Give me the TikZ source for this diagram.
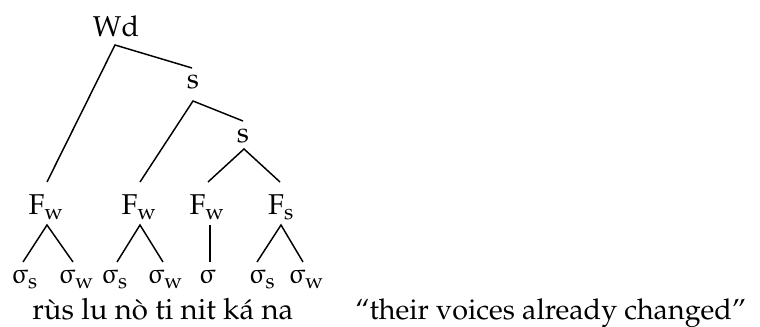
\documentclass[tikz,border=0pt]{standalone}
\usepackage[T1]{fontenc}
\usepackage{mathpazo}
\usepackage{upgreek}
\usetikzlibrary{calc}
\tikzset{
  lbl/.style={anchor=base,inner sep=0pt,font=\fontsize{21.5}{24}\selectfont},
  leaf/.style={anchor=base,inner sep=0pt,font=\fontsize{21}{24}\selectfont},
  txt/.style={anchor=base west,inner sep=0pt,font=\fontsize{22}{24}\selectfont},
  br/.style={line width=1.1pt,line join=miter}
}
\newcommand{\sig}[1]{$\upsigma_{\mathrm{#1}}$}
\begin{document}
\begin{tikzpicture}[x=0.75pt,y=-0.75pt]
\useasboundingbox (0,0) rectangle (760,327);
\node[lbl] (wd) at (116,37) {Wd};
\node[lbl] (s1) at (193,89) {s};
\node[lbl] (s2) at (243,143) {s};
\node[lbl] (f1) at (46,215) {F$_{\mathrm{w}}$};
\node[lbl] (f2) at (139,215) {F$_{\mathrm{w}}$};
\node[lbl] (f3) at (207,215) {F$_{\mathrm{w}}$};
\node[lbl] (f4) at (281,215) {F$_{\mathrm{s}}$};
\node[leaf] (l1) at (24.5,284) {\sig{s}};
\node[leaf] (l2) at (76,284) {\sig{w}};
\node[leaf] (l3) at (114.5,284) {\sig{s}};
\node[leaf] (l4) at (165,284) {\sig{w}};
\node[leaf] (l5) at (207,284) {$\upsigma$};
\node[leaf] (l6) at (262,284) {\sig{s}};
\node[leaf] (l7) at (306,284) {\sig{w}};
\node[txt] (words) at (32,320) {r\`us lu n\`o ti nit k\'a na};
\node[txt,font=\fontsize{21.5}{24}\selectfont] (gloss) at (355,320) {``their voices already changed''};
% Wd
\draw[br] ($(f1.base)+(1,-33)$) -- ($(wd.base)+(-1,8)$) -- ($(s1.base)+(-1,-21)$);
% s1
\draw[br] ($(f2.base)+(1,-33)$) -- ($(s1.base)+(0,12)$) -- ($(s2.base)+(0,-22)$);
% s2
\draw[br] ($(f3.base)+(1,-33)$) -- ($(s2.base)+(1,6)$) -- ($(f4.base)+(-1,-33)$);
% feet
\draw[br] ($(l1.base)+(-1.5,-22)$) -- ($(f1.base)+(1,10)$) -- ($(l2.base)+(-3,-22)$);
\draw[br] ($(l3.base)+(2.5,-22)$) -- ($(f2.base)+(1,10)$) -- ($(l4.base)+(-2,-22)$);
\draw[br] ($(f3.base)+(3,10)$) -- ($(l5.base)+(3,-22)$);
\draw[br] ($(l6.base)+(-5,-22)$) -- ($(f4.base)+(0,10)$) -- ($(l7.base)+(-3,-22)$);
\end{tikzpicture}
\end{document}
